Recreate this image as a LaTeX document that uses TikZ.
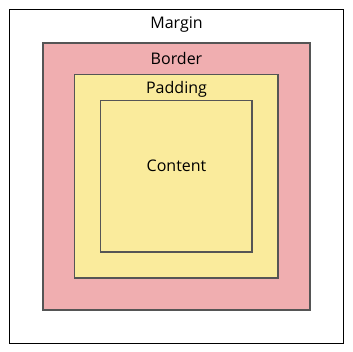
\documentclass[tikz,border=0pt]{standalone}
\usepackage{fontspec}
\setmainfont{Open Sans}
\definecolor{borderpink}{HTML}{F0AEB0}
\definecolor{padyellow}{HTML}{FAEB9C}
\definecolor{edgegray}{HTML}{555555}
\begin{document}
\begin{tikzpicture}[x=1pt,y=-1pt,
  layerbox/.style={draw=edgegray,line width=1.2pt},
  layerlabel/.style={font=\fontsize{16}{19}\selectfont,inner sep=0pt,anchor=base}]
  \useasboundingbox (0,0) rectangle (353,352);
  % margin area
  \draw[line width=1pt,fill=white] (9.5,9.5) rectangle (343.5,343.5);
  % border area
  \draw[layerbox,fill=borderpink] (43,43) rectangle (310,310);
  % padding area
  \draw[layerbox,fill=padyellow] (74.5,74.5) rectangle (278,278);
  % content area
  \draw[layerbox,fill=padyellow] (100.5,100.5) rectangle (252,252);
  % labels
  \node[layerlabel] (margin) at (176.5,28.5) {Margin};
  \node[layerlabel] (border) at (176.5,64.5) {Border};
  \node[layerlabel] (padding) at (176.5,94) {Padding};
  \node[layerlabel] (content) at (176.5,172) {Content};
\end{tikzpicture}
\end{document}
